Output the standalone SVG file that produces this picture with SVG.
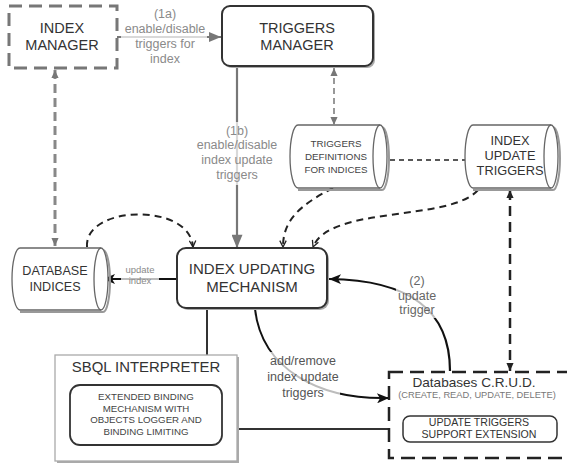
<svg xmlns="http://www.w3.org/2000/svg" width="567" height="464" viewBox="0 0 567 464">
<defs>
<style>
text{font-family:"Liberation Sans",Arial,sans-serif;text-anchor:middle}
.t{fill:#333}
.lbl{fill:#8a8a8a;font-size:12.5px}
.bg{fill:#fff;opacity:0.72}
.box{fill:#fff;stroke:#333;stroke-width:2}
.shadow{fill:#aaa}
.cyl{fill:#fff;stroke:#666;stroke-width:1.3}
.cylsh{fill:none;stroke:#999;stroke-width:2}
.gdash{fill:none;stroke:#888;stroke-width:3;stroke-dasharray:9 5}
.bdash{fill:none;stroke:#222;stroke-width:2;stroke-dasharray:7 5}
.solid{fill:none;stroke:#333;stroke-width:2}
</style>
<marker id="ag" viewBox="0 0 12 10" refX="12" refY="5" markerWidth="13" markerHeight="10" markerUnits="userSpaceOnUse" orient="auto"><path d="M0,0 L12,5 L0,10 Z" fill="#777"/></marker>
<marker id="agb" viewBox="0 0 12 10" refX="12" refY="5" markerWidth="14" markerHeight="11" markerUnits="userSpaceOnUse" orient="auto"><path d="M0,0 L12,5 L0,10 Z" fill="#777"/></marker>
<marker id="ab" viewBox="0 0 12 10" refX="12" refY="5" markerWidth="14" markerHeight="10" markerUnits="userSpaceOnUse" orient="auto"><path d="M0,0 L12,5 L0,10 L3,5 Z" fill="#111"/></marker>
<marker id="ac" viewBox="0 0 10 10" refX="9" refY="5" markerWidth="8" markerHeight="8" markerUnits="userSpaceOnUse" orient="auto"><path d="M1,1 L9,5 L1,9" fill="none" stroke="#222" stroke-width="1.6"/></marker>
<marker id="agcs" viewBox="0 0 10 10" refX="9" refY="5" markerWidth="9" markerHeight="9" markerUnits="userSpaceOnUse" orient="auto-start-reverse"><path d="M0,1 L9,5 L0,9 Z" fill="#777"/></marker>
<marker id="abs" viewBox="0 0 10 10" refX="9" refY="5" markerWidth="9" markerHeight="9" markerUnits="userSpaceOnUse" orient="auto-start-reverse"><path d="M0,1 L9,5 L0,9 Z" fill="#222"/></marker>
</defs>
<rect width="567" height="464" fill="#fff"/>

<g id="connectors">
<line x1="55" y1="70" x2="55" y2="246" class="gdash" marker-start="url(#agcs)" marker-end="url(#agcs)"/>
<line x1="117" y1="37" x2="221" y2="37" stroke="#777" stroke-width="2.2" marker-end="url(#ag)"/>
<line x1="237" y1="67" x2="237" y2="248" stroke="#777" stroke-width="2.2" marker-end="url(#agb)"/>
<line x1="334" y1="68" x2="334" y2="125" stroke="#777" stroke-width="1.5" stroke-dasharray="6 4" marker-start="url(#agcs)" marker-end="url(#agcs)"/>
<line x1="381" y1="160" x2="465" y2="160" stroke="#222" stroke-width="1.6" stroke-dasharray="5 4"/>
<line x1="510" y1="190" x2="510" y2="371" stroke="#222" stroke-width="2.5" stroke-dasharray="10 6" marker-start="url(#abs)" marker-end="url(#abs)"/>
<path d="M87,247 C84,205 190,202 193,247" class="bdash" marker-end="url(#ac)"/>
<path d="M333,188 C300,205 283,220 283,247" class="bdash" marker-end="url(#ac)"/>
<path d="M478,190 C450,222 330,205 313,247" class="bdash" marker-end="url(#ac)"/>
<line x1="177" y1="279" x2="103" y2="279" stroke="#111" stroke-width="2" marker-end="url(#ab)"/>
<path d="M450,371 C450,310 410,280 329,279" fill="none" stroke="#111" stroke-width="2.2" marker-end="url(#ab)"/>
<path d="M255,309 C262,370 320,400 389,398" fill="none" stroke="#111" stroke-width="2" marker-end="url(#ab)"/>
<line x1="207" y1="309" x2="207" y2="355" class="solid"/>
<line x1="237" y1="429" x2="389" y2="429" class="solid"/>
</g>

<g id="labels">
<rect x="121" y="5" width="86" height="63" class="bg"/>
<text class="lbl" x="165" y="18">(1a)</text>
<text class="lbl" x="165" y="33">enable/disable</text>
<text class="lbl" x="165" y="48">triggers for</text>
<text class="lbl" x="165" y="63">index</text>

<rect x="196" y="122" width="83" height="63" class="bg"/>
<text class="lbl" x="237" y="135">(1b)</text>
<text class="lbl" x="237" y="149">enable/disable</text>
<text class="lbl" x="237" y="164">index update</text>
<text class="lbl" x="237" y="179">triggers</text>

<rect x="121" y="263" width="38" height="24" class="bg"/>
<text class="lbl" x="140" y="273" style="font-size:9.5px">update</text>
<text class="lbl" x="140" y="284" style="font-size:9.5px">index</text>

<rect x="396" y="271" width="44" height="47" class="bg"/>
<text class="lbl" x="417" y="285" style="fill:#666">(2)</text>
<text class="lbl" x="417" y="300" style="fill:#666">update</text>
<text class="lbl" x="417" y="314" style="fill:#666">trigger</text>

<rect x="267" y="352" width="73" height="50" class="bg"/>
<text class="lbl" x="303" y="365" style="fill:#555">add/remove</text>
<text class="lbl" x="303" y="381" style="fill:#555">index update</text>
<text class="lbl" x="303" y="397" style="fill:#555">triggers</text>
</g>

<g id="index-manager">
<rect x="9" y="6" width="108" height="62" fill="#fff" stroke="#777" stroke-width="3" stroke-dasharray="13 7"/>
<text class="t" x="62" y="33" style="font-size:14.5px">INDEX</text>
<text class="t" x="62" y="50" style="font-size:14.5px">MANAGER</text>
</g>

<g id="triggers-manager">
<rect x="224" y="8" width="151" height="60" rx="8" class="shadow"/>
<rect x="222" y="6" width="151" height="60" rx="8" class="box"/>
<text class="t" x="297" y="33" style="font-size:14.5px">TRIGGERS</text>
<text class="t" x="297" y="50" style="font-size:14.5px">MANAGER</text>
</g>

<g id="triggers-definitions">
<path d="M298,127 L382,127 A7,31.5 0 0 1 382,190 L298,190" class="cylsh"/>
<path d="M298,125 L380,125 A7,31.5 0 0 1 380,188 L298,188 A8,31.5 0 0 1 298,125 Z" class="cyl"/>
<path d="M380,125 A7,31.5 0 0 0 380,188" class="cyl" style="fill:none"/>
<text class="t" x="336" y="147" style="font-size:9.8px;fill:#444">TRIGGERS</text>
<text class="t" x="336" y="160" style="font-size:9.8px;fill:#444">DEFINITIONS</text>
<text class="t" x="336" y="173" style="font-size:9.8px;fill:#444">FOR INDICES</text>
</g>

<g id="index-update-triggers">
<path d="M473,127 L553,127 A7,31.5 0 0 1 553,190 L473,190" class="cylsh"/>
<path d="M473,125 L551,125 A7,31.5 0 0 1 551,188 L473,188 A8,31.5 0 0 1 473,125 Z" class="cyl"/>
<path d="M551,125 A7,31.5 0 0 0 551,188" class="cyl" style="fill:none"/>
<text class="t" x="510" y="145" style="font-size:12.8px">INDEX</text>
<text class="t" x="510" y="160" style="font-size:12.8px">UPDATE</text>
<text class="t" x="510" y="175" style="font-size:12.8px">TRIGGERS</text>
</g>

<g id="database-indices">
<path d="M20,250 L103,250 A7,31 0 0 1 103,312 L20,312" class="cylsh"/>
<path d="M20,248 L101,248 A7,31 0 0 1 101,310 L20,310 A8,31 0 0 1 20,248 Z" class="cyl"/>
<path d="M101,248 A7,31 0 0 0 101,310" class="cyl" style="fill:none"/>
<text class="t" x="55" y="275" style="font-size:12.6px">DATABASE</text>
<text class="t" x="55" y="291" style="font-size:12.6px">INDICES</text>
</g>

<g id="index-updating-mechanism">
<rect x="179" y="250" width="150" height="60" rx="9" class="shadow"/>
<rect x="177" y="248" width="150" height="60" rx="9" class="box"/>
<text class="t" x="252" y="274" style="font-size:15px">INDEX UPDATING</text>
<text class="t" x="252" y="292" style="font-size:15px">MECHANISM</text>
</g>

<g id="sbql-interpreter">
<rect x="57" y="357" width="182" height="106" class="shadow"/>
<rect x="55" y="355" width="182" height="106" fill="#fff" stroke="#aaa" stroke-width="1.3"/>
<text class="t" x="146" y="372" style="font-size:14.9px">SBQL INTERPRETER</text>
<rect x="70" y="385" width="152" height="60" rx="10" fill="#fff" stroke="#333" stroke-width="1.8"/>
<text class="t" x="146" y="400" style="font-size:9.7px;fill:#444">EXTENDED BINDING</text>
<text class="t" x="146" y="411.5" style="font-size:9.7px;fill:#444">MECHANISM WITH</text>
<text class="t" x="146" y="423" style="font-size:9.7px;fill:#444">OBJECTS LOGGER AND</text>
<text class="t" x="146" y="434.5" style="font-size:9.7px;fill:#444">BINDING LIMITING</text>
</g>

<g id="databases-crud">
<rect x="389" y="372" width="180" height="86" fill="#fff" stroke="#222" stroke-width="2.5" stroke-dasharray="14 7"/>
<text class="t" x="474" y="387" style="font-size:13.6px">Databases C.R.U.D.</text>
<text class="t" x="477" y="398" style="font-size:9.3px;fill:#777">(CREATE, READ, UPDATE, DELETE)</text>
<rect x="403" y="416" width="154" height="26" rx="7" fill="#fff" stroke="#333" stroke-width="1.5"/>
<text class="t" x="479" y="426" style="font-size:10.6px">UPDATE TRIGGERS</text>
<text class="t" x="479" y="438" style="font-size:10.6px">SUPPORT EXTENSION</text>
</g>
</svg>
